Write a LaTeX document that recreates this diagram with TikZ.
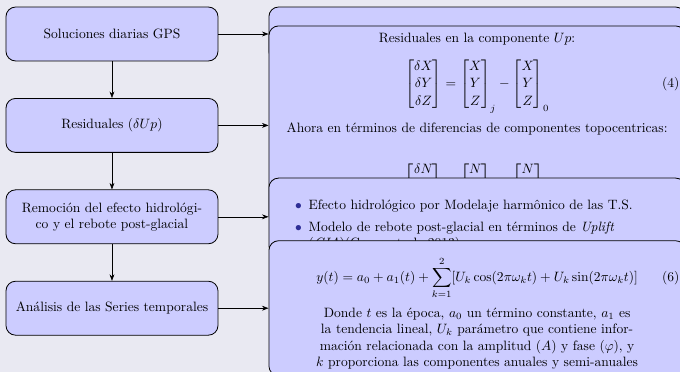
\documentclass[tikz,border=0pt]{standalone}
\usepackage{tikz}
\usetikzlibrary{arrows.meta,positioning}
\usepackage{xcolor}
\usepackage{amsmath,amssymb}

\definecolor{fondo}{RGB}{233,233,242}
\definecolor{cajaazul}{RGB}{204,204,255}
\definecolor{bola}{RGB}{45,45,150}

\begin{document}
\begin{tikzpicture}[font=\normalsize, >=Stealth,
  lbox/.style={draw, semithick, fill=cajaazul, rounded corners=2.5mm,
    minimum width=5.5cm, minimum height=1.4cm, align=center},
  rbox/.style={draw, semithick, fill=cajaazul, rounded corners=2.5mm,
    text width=10.5cm, minimum width=10.8cm, align=center}]
\useasboundingbox (0,0) rectangle (17.64,-9.65);
\fill[fondo] (0,0) rectangle (17.64,-9.65);
\clip (0,0) rectangle (17.64,-9.65);

% pasos del proceso
\node[lbox] (gps) at (2.905,-0.882) {Soluciones diarias GPS};
\node[lbox, below=0.95cm of gps] (res) {Residuales ($\delta Up$)};
\node[lbox, below=0.95cm of res] (hid) {Remoción del efecto hidrológi-\\co y el rebote post-glacial};
\node[lbox, below=0.95cm of hid] (ana) {Análisis de las Series temporales};

% detalle de cada paso
\node[rbox, minimum height=1.4cm, right=1.3cm of gps] (gps-r) {};
\node[rbox, minimum height=5.16cm, right=1.3cm of res] (res-r) {%
\renewcommand{\arraystretch}{1.1}%
\setlength{\abovedisplayskip}{8pt}\setlength{\abovedisplayshortskip}{8pt}%
\setlength{\belowdisplayskip}{6pt}\setlength{\belowdisplayshortskip}{6pt}%
Residuales en la componente $Up$:
\begin{equation*}
\begin{bmatrix}\delta X\\ \delta Y\\ \delta Z\end{bmatrix}
=\begin{bmatrix}X\\ Y\\ Z\end{bmatrix}_j
-\begin{bmatrix}X\\ Y\\ Z\end{bmatrix}_0 \tag{4}
\end{equation*}
\setlength{\abovedisplayskip}{18pt}\setlength{\abovedisplayshortskip}{18pt}%
Ahora en términos de diferencias de componentes topocentricas:
\begin{equation*}
\begin{bmatrix}\delta N\\ \delta E\\ \delta U\end{bmatrix}
=\begin{bmatrix}N\\ E\\ U\end{bmatrix}_j
-\begin{bmatrix}N\\ E\\ U\end{bmatrix}_0 \tag{5}
\end{equation*}};
\node[rbox, minimum height=1.66cm, align=left, right=1.3cm of hid] (hid-r) {%
\begin{itemize}\setlength{\itemsep}{0pt}\setlength{\parsep}{0pt}
\item[\textcolor{bola}{$\bullet$}] Efecto hidrológico por Modelaje harmônico de las T.S.
\item[\textcolor{bola}{$\bullet$}] Modelo de rebote post-glacial en términos de \textit{Uplift}\\
(\textit{GIA})(Geruo et al. 2013)
\end{itemize}};
\node[rbox, minimum height=3.5cm, right=1.3cm of ana] (ana-r) {%
\setlength{\abovedisplayskip}{6pt}\setlength{\belowdisplayskip}{6pt}%
\begin{equation*}
y(t)=a_0+a_1(t)+\sum_{k=1}^{2}[U_k\cos(2\pi\omega_k t)+U_k\sin(2\pi\omega_k t)] \tag{6}
\end{equation*}
Donde $t$ es la época, $a_0$ un término constante, $a_1$ es\\
la tendencia lineal, $U_k$ parámetro que contiene infor-\\
mación relacionada con la amplitud $(A)$ y fase $(\varphi)$, y\\
$k$ proporciona las componentes anuales y semi-anuales};

\foreach \a/\b in {gps/res, res/hid, hid/ana}
  \draw[->] (\a) -- (\b);
\foreach \n in {gps, res, hid, ana}
  \draw[->] (\n) -- (\n-r);
\end{tikzpicture}
\end{document}
